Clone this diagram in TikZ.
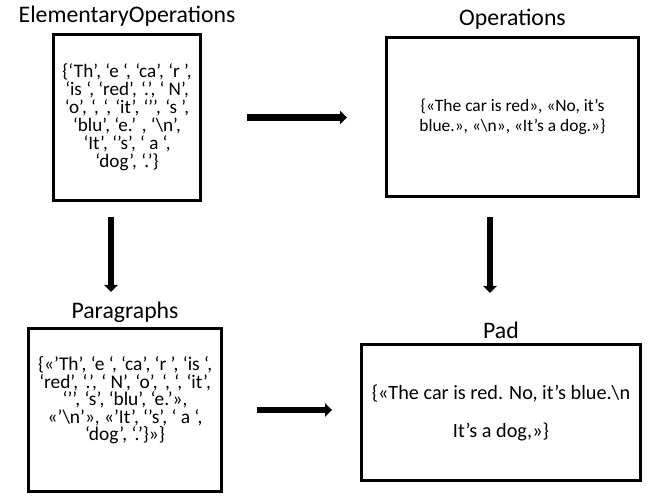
\documentclass[tikz,border=0pt]{standalone}
\usepackage{fontspec}
\setmainfont{Carlito}
\usetikzlibrary{arrows.meta,positioning}

\tikzset{
  box/.style={draw, rectangle, line width=2.1pt, align=center, inner sep=0pt},
  title/.style={inner sep=0pt, font=\fontsize{16.9}{19}\selectfont},
  bigarrow/.style={line width=4.3pt, -{Triangle[width=9.5pt,length=5pt]}},
}

\begin{document}
\begin{tikzpicture}
\useasboundingbox (0,0) rectangle (16.2,12.425);

%The four boxes
\node[box, minimum width=3.675cm, minimum height=4.15cm, font=\fontsize{13.6}{12.8}\selectfont] (eo) at (3.175,9.4875)
  {\{‘Th’, ‘e ‘, ‘ca’, ‘r ’,\\ ‘is ‘, ‘red’, ‘.’, ‘ N’,\\ ‘o’, ‘, ‘, ‘it’, ‘’’, ‘s ’,\\ ‘blu’, ‘e.’ , ‘\textbackslash n’,\\ ‘It’, ‘’s’, ‘ a ‘,\\ ‘dog’, ‘.’\}};
\node[box, minimum width=6.3cm, minimum height=3.975cm, font=\fontsize{12.4}{14.2}\selectfont] (ops) at (12.8125,9.5)
  {\{«The car is red», «No, it’s\\ blue.», «\textbackslash n», «It’s a dog.»\}};
\node[box, minimum width=4.825cm, minimum height=4.075cm, font=\fontsize{13.8}{12.45}\selectfont] (par) at (3.125,2.175)
  {\{«’Th’, ‘e ‘, ‘ca’, ‘r ’, ‘is ‘,\\ ‘red’, ‘.’, ‘ N’, ‘o’, ‘, ‘, ‘it’,\\ ‘’’, ‘s’, ‘blu’, ‘e.’»,\\ «’\textbackslash n’», «’It’, ‘’s’, ‘ a ‘,\\ ‘dog’, ‘.’\}»\}\\ \strut};
\node[box, minimum width=6.975cm, minimum height=3.4cm, font=\fontsize{14.4}{27}\selectfont] (pad) at (12.525,2.1125)
  {\{«The car is red. No, it’s blue.\textbackslash n\\ It’s a dog,»\}};

%Titles
\node[title, above=0.15cm of eo] (eolbl) {ElementaryOperations};
\node[title, above=0.15cm of ops] (opslbl) {Operations};
\node[title, above=0.1cm of par] (parlbl) {Paragraphs};
\node[title, above=0.1cm of pad] (padlbl) {Pad};

%Arrows between boxes
\draw[bigarrow, shorten <=1.125cm, shorten >=0.95cm] (eo.east) -- (eo.east -| ops.west);
\draw[bigarrow, shorten <=0.375cm, shorten >=0.875cm] ([xshift=-0.4cm]eo.south) -- ([xshift=-0.4cm]eo.south |- par.north);
\draw[bigarrow, shorten <=0.475cm, shorten >=1.25cm] ([xshift=-0.5625cm]ops.south) -- ([xshift=-0.5625cm]ops.south |- pad.north);
\draw[bigarrow, shorten <=0.85cm, shorten >=0.7cm] (par.east) -- (par.east -| pad.west);
\end{tikzpicture}
\end{document}
